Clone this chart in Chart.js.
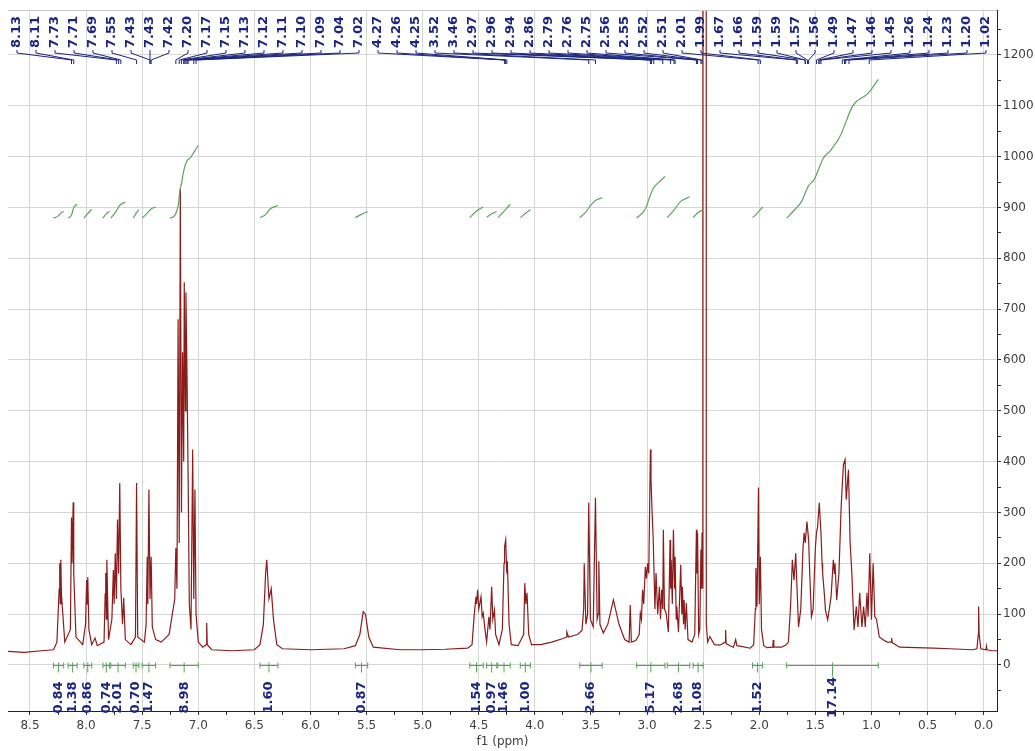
<!DOCTYPE html>
<html>
<head>
<meta charset="utf-8">
<script src="https://cdn.jsdelivr.net/npm/chart.js"></script>
<style>
html,body{margin:0;padding:0;background:#fff}
</style>
</head>
<body>
<canvas id="myChart" width="1035" height="751"></canvas>
<script>
// spectrum trace, [ppm, intensity]
const spectrum = [
  [8.70,27],[8.55,25],[8.40,28],[8.29,30],[8.26,45],[8.24,150],[8.235,200],[8.23,120],[8.225,207],[8.22,140],[8.19,45],
  [8.14,70],[8.13,290],[8.125,200],[8.115,320],[8.11,180],[8.09,55],[8.03,40],[8.005,80],[7.995,167],[7.99,120],
  [7.985,173],[7.975,70],[7.95,40],[7.92,53],[7.90,38],[7.84,45],[7.83,140],[7.825,181],[7.82,90],[7.815,207],[7.80,50],
  [7.77,90],[7.757,187],[7.75,120],[7.74,220],[7.73,130],[7.72,286],[7.71,180],[7.70,358],[7.69,150],[7.675,80],
  [7.665,132],[7.65,50],[7.60,40],[7.56,55],[7.55,358],[7.54,55],[7.48,45],[7.465,80],[7.455,213],[7.45,120],
  [7.44,345],[7.43,130],[7.42,213],[7.41,75],[7.38,50],[7.33,45],[7.26,60],[7.21,130],[7.20,230],[7.19,150],
  [7.18,680],[7.17,240],[7.16,936],[7.15,300],[7.14,615],[7.13,400],[7.125,753],[7.115,500],[7.11,733],[7.10,562],
  [7.09,358],[7.08,120],[7.065,70],[7.05,424],[7.04,130],[7.03,345],[7.02,100],[7.00,45],[6.96,35],[6.93,40],
  [6.925,83],[6.92,40],[6.88,30],[6.70,28],[6.50,30],[6.45,40],[6.42,80],[6.40,180],[6.39,207],[6.37,130],
  [6.35,150],[6.33,90],[6.30,40],[6.25,32],[6.00,30],[5.70,32],[5.60,38],[5.56,60],[5.53,105],[5.51,100],[5.48,55],
  [5.44,35],[5.20,30],[5.00,30],[4.80,31],[4.60,33],[4.56,40],[4.55,70],[4.54,100],[4.525,134],[4.52,120],
  [4.51,148],[4.50,110],[4.48,134],[4.47,95],[4.46,102],[4.445,70],[4.43,45],[4.41,95],[4.40,70],[4.385,154],
  [4.375,90],[4.36,108],[4.35,60],[4.32,40],[4.29,70],[4.275,200],[4.27,233],[4.26,246],[4.25,180],[4.245,204],
  [4.23,80],[4.21,40],[4.15,38],[4.10,60],[4.09,161],[4.08,120],[4.07,142],[4.055,60],[4.03,40],[3.95,40],
  [3.85,45],[3.75,52],[3.72,55],[3.715,65],[3.70,55],[3.62,60],[3.58,68],[3.565,110],[3.56,200],[3.545,80],
  [3.53,100],[3.52,319],[3.505,90],[3.48,75],[3.46,329],[3.445,90],[3.435,100],[3.43,204],[3.42,80],[3.39,63],
  [3.35,80],[3.30,128],[3.25,80],[3.20,50],[3.16,45],[3.15,118],[3.14,45],[3.10,48],[3.07,60],[3.06,102],
  [3.05,90],[3.04,148],[3.03,120],[3.015,193],[3.005,170],[2.995,200],[2.985,180],[2.97,424],[2.965,365],
  [2.955,300],[2.945,246],[2.93,110],[2.92,181],[2.905,100],[2.89,154],[2.88,90],[2.87,148],[2.86,110],
  [2.855,266],[2.845,110],[2.83,102],[2.81,65],[2.795,246],[2.79,150],[2.785,207],[2.775,120],[2.765,266],
  [2.755,150],[2.75,213],[2.74,90],[2.735,115],[2.72,65],[2.70,197],[2.69,100],[2.685,154],[2.675,80],[2.67,128],
  [2.66,70],[2.65,122],[2.635,50],[2.60,45],[2.575,60],[2.565,200],[2.56,266],[2.555,180],[2.55,260],[2.54,60],
  [2.53,70],[2.52,227],[2.515,150],[2.51,260],[2.503,150],[2.488,30000],[2.472,80],[2.46,45],[2.44,56],[2.40,40],
  [2.35,39],[2.305,45],[2.30,69],[2.295,42],[2.26,38],[2.23,35],[2.21,50],[2.20,38],[2.15,36],[2.08,33],[2.05,40],
  [2.035,110],[2.03,191],[2.02,115],[2.007,349],[2.00,120],[1.99,213],[1.98,70],[1.96,38],[1.93,34],[1.88,35],
  [1.875,49],[1.87,35],[1.80,35],[1.76,40],[1.74,45],[1.72,120],[1.705,207],[1.69,167],[1.675,220],[1.665,160],
  [1.65,75],[1.63,110],[1.61,230],[1.60,260],[1.59,240],[1.575,282],[1.56,246],[1.55,180],[1.535,95],[1.52,110],
  [1.50,230],[1.49,260],[1.48,272],[1.465,319],[1.45,260],[1.44,200],[1.435,181],[1.42,140],[1.41,108],[1.39,89],
  [1.36,134],[1.34,207],[1.33,180],[1.325,200],[1.31,128],[1.29,180],[1.27,312],[1.25,394],[1.235,404],[1.225,325],
  [1.205,384],[1.19,240],[1.175,181],[1.155,69],[1.135,115],[1.12,75],[1.105,142],[1.085,75],[1.07,115],[1.055,75],
  [1.04,142],[1.03,95],[1.015,220],[1.00,89],[0.985,200],[0.97,95],[0.955,90],[0.93,55],[0.90,50],[0.86,45],
  [0.825,45],[0.82,53],[0.815,44],[0.75,35],[0.60,34],[0.45,33],[0.30,32],[0.10,30],[0.06,32],[0.048,60],
  [0.045,115],[0.04,60],[0.025,32],[-0.02,30],[-0.025,37],[-0.03,30],[-0.07,28],[-0.12,28]
];

// integral curves, [ppm, level]
const integralCurves = [
  [[8.29,879],[8.25,883],[8.22,890],[8.20,892]],
  [[8.16,879],[8.13,885],[8.11,900],[8.08,906]],
  [[8.02,879],[7.99,887],[7.95,896]],
  [[7.85,879],[7.82,888],[7.79,892]],
  [[7.78,879],[7.74,890],[7.70,904],[7.65,911]],
  [[7.58,879],[7.55,890],[7.53,896]],
  [[7.50,879],[7.45,890],[7.42,897],[7.38,901]],
  [[7.252,879],[7.208,885],[7.178,905],[7.163,935],[7.148,948],[7.134,968],[7.103,991],[7.074,997],[7.044,1007],[7.0,1022]],
  [[6.45,880],[6.40,886],[6.36,897],[6.29,904]],
  [[5.60,880],[5.55,886],[5.49,892]],
  [[4.58,880],[4.52,893],[4.46,901]],
  [[4.43,881],[4.38,888],[4.34,892]],
  [[4.33,880],[4.27,894],[4.22,906]],
  [[4.13,880],[4.08,889],[4.04,896]],
  [[3.60,880],[3.55,890],[3.50,905],[3.45,915],[3.40,919]],
  [[3.093,879],[3.018,896],[2.974,922],[2.944,938],[2.899,949],[2.84,961]],
  [[2.82,880],[2.76,895],[2.70,912],[2.62,921]],
  [[2.59,880],[2.55,889],[2.50,896]],
  [[2.06,880],[2.02,888],[1.97,901]],
  [[1.756,879],[1.682,896],[1.622,912],[1.563,942],[1.511,955],[1.429,997],[1.369,1011],[1.28,1040],[1.176,1096],[1.145,1106],[1.028,1125],[0.939,1152]]
];
const integralValues = ['0.84','1.38','0.86','0.74','2.01','0.70','1.47','8.98','1.60','0.87',
  '1.54','0.97','1.46','1.00','2.66','5.17','2.68','1.08','1.52','17.14'];

const peakLabels = [8.13,8.11,7.73,7.71,7.69,7.55,7.43,7.43,7.42,7.20,7.17,7.15,7.13,7.12,7.11,7.10,7.09,7.04,7.02,
  4.27,4.26,4.25,3.52,3.46,2.97,2.96,2.94,2.86,2.79,2.76,2.75,2.56,2.55,2.52,2.51,2.01,1.99,
  1.67,1.66,1.59,1.59,1.57,1.56,1.49,1.47,1.46,1.45,1.26,1.24,1.23,1.20,1.02];

const xTicks = [0,0.25,0.5,0.75,1,1.25,1.5,1.75,2,2.25,2.5,2.75,3,3.25,3.5,3.75,4,4.25,4.5,4.75,5,5.25,5.5,5.75,6,6.25,6.5,6.75,7,7.25,7.5,7.75,8,8.25,8.5];
const yTicks = [-50,0,50,100,150,200,250,300,350,400,450,500,550,600,650,700,750,800,850,900,950,1000,1050,1100,1150,1200,1250];

const NAVY = '#1c2580';
const FONT = '"DejaVu Sans", Verdana, sans-serif';
const majorX = v => Math.round(v * 4) % 2 === 0;
const majorY = v => v % 100 === 0 && v >= 0 && v <= 1200;

const decorations = {
  id: 'decorations',
  afterDraw(chart) {
    const ctx = chart.ctx, a = chart.chartArea;
    const xs = chart.scales.x, ys = chart.scales.y;
    ctx.save();
    // top frame line
    ctx.strokeStyle = '#c8c8c8';
    ctx.lineWidth = 1;
    ctx.beginPath(); ctx.moveTo(a.left, a.top + 0.5); ctx.lineTo(a.right, a.top + 0.5); ctx.stroke();

    // peak labels along the top
    const n = peakLabels.length;
    const x0 = a.left + 9, x1 = a.right - 11;
    ctx.font = 'bold 13px ' + FONT;
    ctx.fillStyle = NAVY;
    ctx.strokeStyle = NAVY;
    ctx.textAlign = 'left';
    ctx.textBaseline = 'middle';
    peakLabels.forEach((p, i) => {
      const lx = x0 + i * (x1 - x0) / (n - 1);
      const px = xs.getPixelForValue(p);
      ctx.save();
      ctx.translate(lx, a.top + 38);
      ctx.rotate(-Math.PI / 2);
      ctx.fillText(p.toFixed(2), 0, 0);
      ctx.restore();
      ctx.beginPath();
      ctx.moveTo(lx, a.top + 40);
      ctx.lineTo(lx, a.top + 43);
      ctx.lineTo(px, a.top + 50);
      ctx.lineTo(px, a.top + 54);
      ctx.stroke();
    });

    // integration bars and values
    const y0 = Math.round(ys.getPixelForValue(0)) + 0.5;
    integralCurves.forEach((c, i) => {
      const xa = xs.getPixelForValue(c[0][0]);
      const xb = xs.getPixelForValue(c[c.length - 1][0]);
      const xm = (xa + xb) / 2;
      ctx.strokeStyle = '#4fa64f';
      ctx.beginPath();
      ctx.moveTo(xa, y0); ctx.lineTo(xb, y0);
      ctx.moveTo(xa, y0 - 3); ctx.lineTo(xa, y0 + 3);
      ctx.moveTo(xb, y0 - 3); ctx.lineTo(xb, y0 + 3);
      ctx.moveTo(xm, y0 - 3); ctx.lineTo(xm, y0 + (integralValues[i].length > 4 ? 11 : 7));
      ctx.stroke();
      ctx.save();
      ctx.fillStyle = NAVY;
      ctx.font = 'bold 13px ' + FONT;
      ctx.textAlign = 'center';
      ctx.textBaseline = 'middle';
      ctx.translate(xm, y0 + 32);
      ctx.rotate(-Math.PI / 2);
      ctx.fillText(integralValues[i], 0, 0);
      ctx.restore();
    });
    ctx.restore();
  }
};

const datasets = [{
  data: spectrum.map(p => ({x: p[0], y: p[1]})),
  borderColor: '#8b1c1c',
  borderWidth: 1.2,
  pointRadius: 0,
  fill: false,
  tension: 0,
  order: 2
}];
integralCurves.forEach(c => {
  datasets.push({
    data: c.map(p => ({x: p[0], y: p[1]})),
    borderColor: '#5ea35e',
    borderWidth: 1.2,
    pointRadius: 0,
    fill: false,
    cubicInterpolationMode: 'monotone',
    order: 1
  });
});

const CHART = document.getElementById('myChart');
new Chart(CHART, {
  type: 'line',
  data: {datasets: datasets},
  plugins: [decorations],
  options: {
    responsive: false,
    animation: false,
    devicePixelRatio: 1,
    layout: {padding: {left: 8, top: 10, right: 0, bottom: 0}},
    plugins: {legend: {display: false}, tooltip: {enabled: false}},
    scales: {
      x: {
        type: 'linear',
        reverse: true,
        min: -0.119,
        max: 8.696,
        afterBuildTicks: s => { s.ticks = xTicks.map(v => ({value: v})); },
        afterFit: s => { s.height = 40; },
        ticks: {
          autoSkip: false, maxRotation: 0, padding: 4, color: '#404040',
          font: {family: FONT, size: 12},
          callback: v => majorX(v) ? v.toFixed(1) : ''
        },
        grid: {
          color: c => (c.tick && majorX(c.tick.value)) ? '#d6d6d6' : 'rgba(0,0,0,0)',
          tickColor: '#333', tickLength: 4
        },
        border: {display: true, color: '#222', width: 1},
        title: {display: true, text: 'f1 (ppm)', color: '#404040', font: {family: FONT, size: 12}, padding: {top: 0, bottom: 2}}
      },
      y: {
        position: 'right',
        min: -90.5,
        max: 1288.5,
        afterBuildTicks: s => { s.ticks = yTicks.map(v => ({value: v})); },
        afterFit: s => { s.width = 38; },
        ticks: {
          autoSkip: false, padding: 2, color: '#404040',
          font: {family: FONT, size: 12},
          callback: v => majorY(v) ? String(v) : ''
        },
        grid: {
          color: c => (c.tick && majorY(c.tick.value)) ? '#d6d6d6' : 'rgba(0,0,0,0)',
          tickColor: '#333', tickLength: 4
        },
        border: {display: true, color: '#222', width: 1}
      }
    }
  }
});
</script>
</body>
</html>
